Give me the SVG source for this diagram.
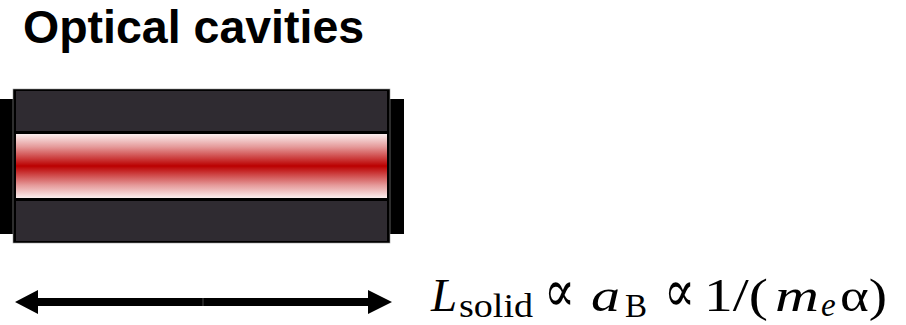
<svg xmlns="http://www.w3.org/2000/svg" width="906" height="325" viewBox="0 0 906 325">
  <style>
    .title { font-family: "Liberation Sans", Arial, sans-serif; font-weight: bold; font-size: 46.5px; fill: #000; }
    .math { font-family: "Liberation Serif", "DejaVu Serif", serif; font-size: 47px; fill: #000; }
    .sub { font-size: 33px; }
    .it { font-style: italic; }
    .block { fill: #2f2b31; }
    .mirror { fill: #000; }
  </style>
  <defs>
    <linearGradient id="beamGrad" x1="0" y1="0" x2="0" y2="1">
      <stop offset="0" stop-color="#fbeeee"/>
      <stop offset="0.2" stop-color="#e59a9a"/>
      <stop offset="0.5" stop-color="#bb0000"/>
      <stop offset="0.8" stop-color="#e59a9a"/>
      <stop offset="1" stop-color="#fbeeee"/>
    </linearGradient>
  </defs>

  <text class="title" x="23" y="43">Optical cavities</text>

  <g id="cavity">
    <rect class="mirror" x="0" y="99" width="14" height="135"/>
    <rect class="mirror" x="390" y="99" width="14" height="135"/>
    <rect x="13" y="89" width="377" height="154" fill="#000" stroke="#9a9a9a" stroke-width="0.6"/>
    <rect class="block" x="16" y="91" width="371" height="40"/>
    <rect x="16" y="134" width="371" height="64" fill="url(#beamGrad)"/>
    <rect class="block" x="16" y="201" width="371" height="40"/>
  </g>

  <g id="connectors">
    <polygon points="15,302 38,290 38,298 368,298 368,290 392,302 368,314 368,306 38,306 38,314" fill="#000"/>
    <line x1="203" y1="298" x2="203" y2="306" stroke="#777" stroke-width="0.6"/>
  </g>

  <g id="formula" class="math">
    <text class="it" x="431" y="311">L</text>
    <text class="sub" x="459" y="317" textLength="74" lengthAdjust="spacingAndGlyphs">solid</text>
    <text transform="translate(544,311) scale(1.25)" textLength="25" lengthAdjust="spacingAndGlyphs">∝</text>
    <text class="it" x="591" y="311" textLength="29" lengthAdjust="spacingAndGlyphs">a</text>
    <text class="sub" x="625" y="317">B</text>
    <text transform="translate(664,311) scale(1.25)" textLength="25" lengthAdjust="spacingAndGlyphs">∝</text>
    <text x="704" y="311" textLength="64" lengthAdjust="spacingAndGlyphs">1/(</text>
    <text class="it" x="775" y="311" textLength="44" lengthAdjust="spacingAndGlyphs">m</text>
    <text class="sub it" x="821" y="316">e</text>
    <text x="840" y="311" textLength="47" lengthAdjust="spacingAndGlyphs">α)</text>
  </g>
</svg>
